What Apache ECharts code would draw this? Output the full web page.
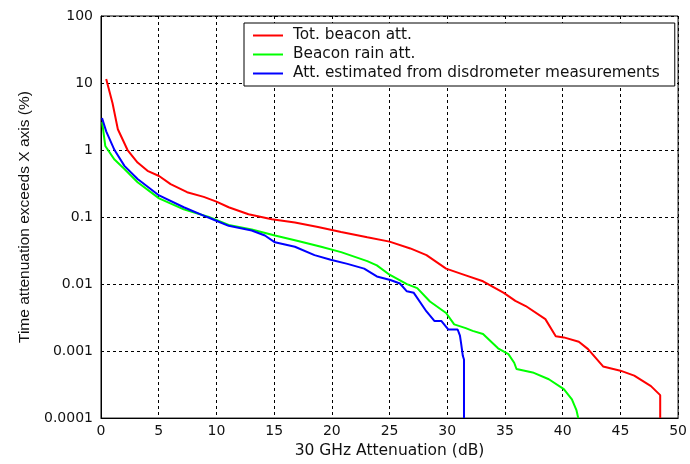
<!DOCTYPE html>
<html><head><meta charset="utf-8">
<script src="https://cdn.jsdelivr.net/npm/echarts@6/dist/echarts.min.js"></script>
<style>html,body{margin:0;padding:0;background:#fff}#c{width:690px;height:464px}</style>
</head><body><div id="c"></div>
<script>
const seriesNames = ['Tot. beacon att.', 'Beacon rain att.', 'Att. estimated from disdrometer measurements'];
const yTickLabels = ['0.0001', '0.001', '0.01', '0.1', '1', '10', '100'];
const xTickLabels = ['0','5','10','15','20','25','30','35','40','45','50'];

const totX = [0.45, 0.6, 1.0, 1.46, 2.3, 3.17, 4.03, 5.03, 6.03, 7.46, 8.9, 10.0, 11.06, 12.78, 14.8, 16.8, 18.8, 20.8, 23.07, 25.0, 26.8, 28.2, 29.9, 31.6, 33.1, 34.9, 35.9, 36.8, 38.5, 39.4, 40.1, 41.4, 42.2, 43.5, 45.0, 46.2, 47.65, 48.45, 48.45];
const totY = [11.5, 11, 5.0, 2.04, 1.0, 0.65, 0.49, 0.41, 0.31, 0.235, 0.2, 0.17, 0.14, 0.11, 0.093, 0.083, 0.071, 0.06, 0.05, 0.043, 0.034, 0.027, 0.017, 0.0135, 0.011, 0.0074, 0.0056, 0.0047, 0.0030, 0.00167, 0.0016, 0.00138, 0.00107, 0.00059, 0.00051, 0.00043, 0.0003, 0.00022, 0.0001];

const rainX = [0.1, 0.37, 1.17, 2.03, 3.17, 5.03, 7.17, 9.35, 11.06, 13.06, 15.07, 17.07, 19.07, 20.8, 23.07, 23.9, 25.0, 26.5, 27.4, 28.5, 29.9, 30.6, 31.6, 32.2, 33.1, 34.4, 35.3, 35.8, 36.0, 37.4, 38.8, 40.1, 40.8, 41.2, 41.35];
const rainY = [2.6, 1.15, 0.72, 0.52, 0.33, 0.19, 0.13, 0.1, 0.076, 0.065, 0.053, 0.044, 0.036, 0.030, 0.022, 0.019, 0.0138, 0.01, 0.0087, 0.0055, 0.0037, 0.0025, 0.0022, 0.002, 0.0018, 0.0011, 0.0009, 0.00067, 0.00054, 0.00048, 0.00038, 0.00027, 0.00019, 0.00013, 0.0001];

const disX = [0.09, 0.45, 1.17, 2.03, 3.17, 5.03, 7.17, 9.2, 10.2, 11.06, 13.06, 14.2, 15.07, 16.8, 18.5, 19.9, 21.35, 22.8, 23.9, 25.07, 25.9, 26.5, 27.1, 28.2, 28.9, 29.5, 30.08, 30.9, 31.1, 31.2, 31.35, 31.45, 31.45];
const disY = [3.0, 1.9, 1.0, 0.58, 0.37, 0.21, 0.14, 0.1, 0.085, 0.074, 0.063, 0.053, 0.042, 0.036, 0.027, 0.023, 0.020, 0.017, 0.013, 0.0115, 0.0102, 0.0078, 0.0074, 0.0039, 0.0028, 0.0028, 0.0021, 0.0021, 0.0017, 0.0013, 0.00085, 0.00075, 0.0001];

const colors = ['#ff0000', '#00ff00', '#0000ff'];
const zip = (xs, ys) => xs.map((x, i) => [x, ys[i]]);
const HFONT = 'DejaVu Sans, Verdana, sans-serif';
const VFONT = 'Liberation Sans, Arial, sans-serif';

const chart = echarts.init(document.getElementById('c'), null, {renderer: 'canvas'});
chart.setOption({
  animation: false,
  backgroundColor: '#fff',
  textStyle: {fontFamily: HFONT},
  grid: {left: 101, right: 5.5, top: 16, bottom: 43, show: true, borderColor: '#000', borderWidth: 1, backgroundColor: 'transparent'},
  legend: {
    orient: 'vertical', left: 244, top: 23,
    backgroundColor: '#fff', borderColor: '#000', borderWidth: 1,
    padding: [5, 15, 5, 9],
    icon: 'rect',
    itemWidth: 30, itemHeight: 2, itemGap: 4,
    textStyle: {fontFamily: HFONT, fontSize: 15.3, lineHeight: 14, color: '#111', padding: [0, 0, 0, 5]},
    data: seriesNames,
  },
  xAxis: {
    type: 'value', min: 0, max: 50, interval: 5,
    name: '30 GHz Attenuation (dB)', nameLocation: 'middle', nameGap: 24,
    nameTextStyle: {fontFamily: HFONT, fontSize: 15.5, color: '#111'},
    axisLine: {show: true, onZero: false, lineStyle: {color: '#000', width: 1}},
    axisTick: {show: false},
    axisLabel: {fontFamily: HFONT, fontSize: 14, color: '#111', margin: 6,
      formatter: v => xTickLabels[Math.round(v / 5)] ?? ''},
    splitLine: {show: true, lineStyle: {color: '#000', type: [3, 3], width: 1}},
  },
  yAxis: {
    type: 'log', logBase: 10, min: 0.0001, max: 100,
    name: 'Time attenuation exceeds X axis (%)', nameLocation: 'middle', nameGap: 66,
    nameTextStyle: {fontFamily: VFONT, fontSize: 15.5, color: '#111'},
    axisLine: {show: true, lineStyle: {color: '#000', width: 1}},
    axisTick: {show: false},
    axisLabel: {fontFamily: HFONT, fontSize: 14, color: '#111', margin: 8,
      formatter: v => yTickLabels[Math.round(Math.log10(v)) + 4] ?? ''},
    splitLine: {show: true, lineStyle: {color: '#000', type: [3, 3], width: 1}},
  },
  series: [
    {name: seriesNames[0], type: 'line', data: zip(totX, totY), symbol: 'none', color: colors[0], lineStyle: {width: 2, color: colors[0]}, itemStyle: {color: colors[0]}},
    {name: seriesNames[1], type: 'line', data: zip(rainX, rainY), symbol: 'none', color: colors[1], lineStyle: {width: 2, color: colors[1]}, itemStyle: {color: colors[1]}},
    {name: seriesNames[2], type: 'line', data: zip(disX, disY), symbol: 'none', color: colors[2], lineStyle: {width: 2, color: colors[2]}, itemStyle: {color: colors[2]}},
  ],
});
</script></body></html>
